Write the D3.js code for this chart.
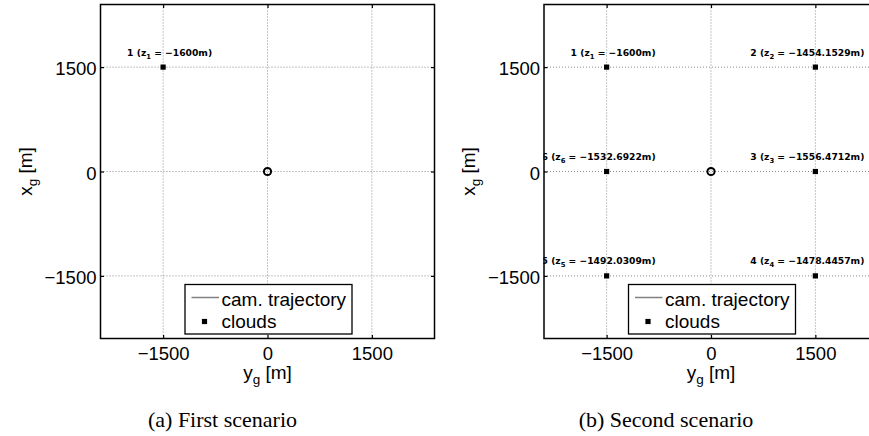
<!DOCTYPE html>
<html>
<head>
<meta charset="utf-8">
<script src="https://cdn.jsdelivr.net/npm/d3@7"></script>
<style>
  body { margin: 0; background: #fff; }
  svg { display: block; }
</style>
</head>
<body>
<div id="chart"></div>
<script>
// axis limits and ticks (both axes, metres)
const limits = [-2400, 2400];
const ticks = [-1500, 0, 1500];

// camera trajectory (y_g, x_g)
const trajY = [0];
const trajX = [0];

// scenario a: clouds
const cloudIdA = [1];
const cloudYA = [-1500];
const cloudXA = [1500];
const cloudZA = [-1600];

// scenario b: clouds
const cloudIdB = [1, 2, 3, 4, 5, 6];
const cloudYB = [-1500, 1500, 1500, 1500, -1500, -1500];
const cloudXB = [1500, 1500, 0, -1500, -1500, 0];
const cloudZB = [-1600, -1454.1529, -1556.4712, -1478.4457, -1492.0309, -1532.6922];

const captions = ["(a) First scenario", "(b) Second scenario"];
const legendLabels = ["cam. trajectory", "clouds"];

const W = 869, H = 436;
const sans = "'Liberation Sans', Arial, Helvetica, sans-serif";

const svg = d3.select("#chart").append("svg")
    .attr("width", W)
    .attr("height", H);

const minus = (v) => String(v).replace("-", "\u2212");

function drawPanel(idx, offsetX, ids, ys, xs, zs) {
    const g = svg.append("g").attr("transform", `translate(${offsetX},0)`);

    const x = d3.scaleLinear().domain(limits).range([100.5, 434.5]);
    const y = d3.scaleLinear().domain(limits).range([338.5, 4.5]);
    const [x0, x1] = x.range();
    const [y0, y1] = y.range();

    // dotted grid
    g.selectAll("line.vgrid").data(ticks).join("line")
        .attr("class", "vgrid")
        .attr("x1", d => x(d)).attr("x2", d => x(d))
        .attr("y1", y0).attr("y2", y1)
        .attr("stroke", "#8a8a8a").attr("stroke-width", 1)
        .attr("stroke-dasharray", "1,2");
    g.selectAll("line.hgrid").data(ticks).join("line")
        .attr("class", "hgrid")
        .attr("x1", x0).attr("x2", x1)
        .attr("y1", d => y(d)).attr("y2", d => y(d))
        .attr("stroke", "#8a8a8a").attr("stroke-width", 1)
        .attr("stroke-dasharray", "1,2");

    // axes, matlab style: ticks pointing inward
    const tickLen = -3.5;
    const bottom = g.append("g")
        .attr("transform", `translate(0,${y0})`)
        .call(d3.axisBottom(x).tickValues(ticks).tickSizeInner(tickLen).tickSizeOuter(0).tickFormat(minus));
    const top = g.append("g")
        .attr("transform", `translate(0,${y1})`)
        .call(d3.axisTop(x).tickValues(ticks).tickSizeInner(tickLen).tickSizeOuter(0).tickFormat(""));
    const left = g.append("g")
        .attr("transform", `translate(${x0},0)`)
        .call(d3.axisLeft(y).tickValues(ticks).tickSizeInner(tickLen).tickSizeOuter(0).tickPadding(4).tickFormat(minus));
    const right = g.append("g")
        .attr("transform", `translate(${x1},0)`)
        .call(d3.axisRight(y).tickValues(ticks).tickSizeInner(tickLen).tickSizeOuter(0).tickFormat(""));

    for (const a of [bottom, top, left, right]) {
        a.select(".domain").remove();
        a.selectAll(".tick line").attr("stroke", "#000").attr("stroke-width", 1.2);
        a.selectAll("text").attr("font-family", sans).attr("font-size", 18.5).attr("fill", "#000");
    }
    bottom.selectAll("text").attr("y", 21.5).attr("dy", null);
    left.selectAll("text").attr("dy", "0.41em");

    // box
    g.append("rect")
        .attr("x", x0).attr("y", y1)
        .attr("width", x1 - x0).attr("height", y0 - y1)
        .attr("fill", "none").attr("stroke", "#000").attr("stroke-width", 1.5);

    // trajectory
    const traj = trajY.map((v, i) => ({ y: v, x: trajX[i] }));
    g.append("path")
        .datum(traj)
        .attr("d", d3.line().x(d => x(d.y)).y(d => y(d.x)))
        .attr("fill", "none").attr("stroke", "#808080").attr("stroke-width", 1.5);
    g.append("circle")
        .attr("cx", x(traj[0].y)).attr("cy", y(traj[0].x))
        .attr("r", 3.6)
        .attr("fill", "none").attr("stroke", "#000").attr("stroke-width", 2);

    // clouds
    const clouds = ids.map((id, i) => ({ id: id, y: ys[i], x: xs[i], z: zs[i] }));
    g.selectAll("rect.cloud").data(clouds).join("rect")
        .attr("class", "cloud")
        .attr("x", d => x(d.y) - 2.6).attr("y", d => y(d.x) - 2.6)
        .attr("width", 5.2).attr("height", 5.2)
        .attr("fill", "#000");

    // cloud labels, clipped at the axes
    const clipId = "clip" + idx;
    g.append("clipPath").attr("id", clipId)
        .append("rect")
        .attr("x", x0 - 0.5).attr("y", 0)
        .attr("width", 500).attr("height", H);
    const labels = g.append("g").attr("clip-path", `url(#${clipId})`)
        .selectAll("text").data(clouds).join("text")
        .attr("x", d => x(d.y) + 49)
        .attr("y", d => y(d.x) - 11.5)
        .attr("text-anchor", "end")
        .attr("font-family", "'DejaVu Sans', sans-serif")
        .attr("font-weight", "bold")
        .attr("font-size", 9.2)
        .attr("fill", "#000");
    labels.append("tspan").text(d => `${d.id} (z`);
    labels.append("tspan").attr("font-size", 6.8).attr("dy", 3).text(d => d.id);
    labels.append("tspan").attr("dy", -3).text(d => ` = ${minus(d.z)}m)`);

    // axis labels
    const xl = g.append("text")
        .attr("x", x(0)).attr("y", 379)
        .attr("text-anchor", "middle")
        .attr("font-family", sans).attr("font-size", 19).attr("fill", "#000");
    xl.append("tspan").text("y");
    xl.append("tspan").attr("font-size", 13.5).attr("dy", 5).text("g");
    xl.append("tspan").attr("dy", -5).text(" [m]");

    const yl = g.append("text")
        .attr("transform", `translate(31.5,${y(0)}) rotate(-90)`)
        .attr("text-anchor", "middle")
        .attr("font-family", sans).attr("font-size", 19).attr("fill", "#000");
    yl.append("tspan").text("x");
    yl.append("tspan").attr("font-size", 13.5).attr("dy", 5).text("g");
    yl.append("tspan").attr("dy", -5).text(" [m]");

    // legend
    const cx = x(0);
    const lg = g.append("g");
    lg.append("rect")
        .attr("x", cx - 82.5).attr("y", 284.5)
        .attr("width", 167).attr("height", 49.5)
        .attr("fill", "#fff").attr("stroke", "#000").attr("stroke-width", 1.3);
    lg.append("line")
        .attr("x1", cx - 76).attr("x2", cx - 48.5)
        .attr("y1", 297.5).attr("y2", 297.5)
        .attr("stroke", "#808080").attr("stroke-width", 1.5);
    lg.append("rect")
        .attr("x", cx - 65.6).attr("y", 318.9)
        .attr("width", 5.2).attr("height", 5.2)
        .attr("fill", "#000");
    lg.selectAll("text").data(legendLabels).join("text")
        .attr("x", cx - 46)
        .attr("y", (d, i) => 306 + i * 21.5)
        .attr("font-family", sans).attr("font-size", 19).attr("fill", "#000")
        .text(d => d);

    // sub-caption
    g.append("text")
        .attr("x", cx - 45).attr("y", 427)
        .attr("text-anchor", "middle")
        .attr("font-family", "'Liberation Serif', 'Times New Roman', serif")
        .attr("font-size", 22).attr("fill", "#000")
        .text(captions[idx]);
}

drawPanel(0, 0, cloudIdA, cloudYA, cloudXA, cloudZA);
drawPanel(1, 443.5, cloudIdB, cloudYB, cloudXB, cloudZB);
</script>
</body>
</html>
